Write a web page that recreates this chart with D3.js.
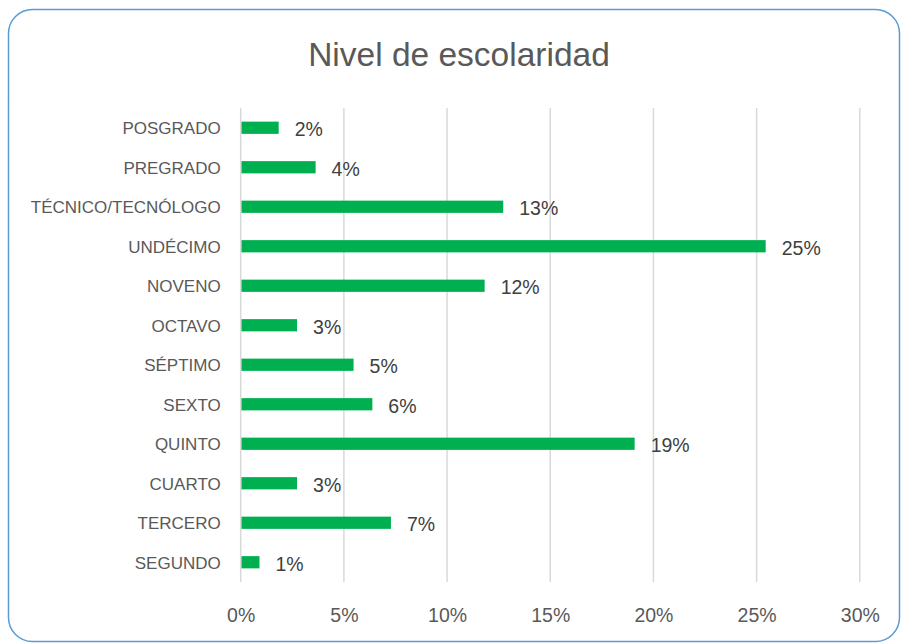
<!DOCTYPE html>
<html><head><meta charset="utf-8">
<script src="https://cdn.jsdelivr.net/npm/d3@7"></script>
<style>html,body{margin:0;padding:0;background:#fff;}svg{display:block;}</style>
</head><body>
<svg id="chart" width="901" height="643"></svg>
<script>
const title = "Nivel de escolaridad";
const categories = ["POSGRADO","PREGRADO","TÉCNICO/TECNÓLOGO","UNDÉCIMO","NOVENO","OCTAVO","SÉPTIMO","SEXTO","QUINTO","CUARTO","TERCERO","SEGUNDO"];
const values = [0.0184,0.0363,0.1272,0.2544,0.1182,0.0273,0.0547,0.0638,0.1909,0.0273,0.0728,0.0091];
const xTicks = [0,0.05,0.10,0.15,0.20,0.25,0.30];

const svg = d3.select("#chart");
const font = "'Liberation Sans', Arial, sans-serif";

svg.append("rect").attr("x",8.5).attr("y",9.5).attr("width",891).attr("height",632)
  .attr("rx",24).attr("ry",24).attr("fill","#fff").attr("stroke","#5B9BD5").attr("stroke-width",1.5);

svg.append("text").attr("x",459).attr("y",65.5).attr("text-anchor","middle")
  .attr("font-family",font).attr("font-size",33.5).attr("fill","#595959").text(title);

const x = d3.scaleLinear().domain([0,0.30]).range([240.7,859.8]);
const y = d3.scaleBand().domain(categories).range([108,582]).paddingInner(0.69).paddingOuter(0.345);

const g = svg.append("g");
g.selectAll("line.grid").data(xTicks).join("line").attr("class","grid")
  .attr("x1",d=>x(d)).attr("x2",d=>x(d)).attr("y1",108).attr("y2",582)
  .attr("stroke","#D9D9D9").attr("stroke-width",1.5);

const xAxis = d3.axisBottom(x).tickValues(xTicks).tickFormat(d3.format(".0%")).tickSize(0).tickPadding(0);
const ax = svg.append("g").attr("transform","translate(0,582)").call(xAxis);
ax.select(".domain").remove();
ax.selectAll("text").attr("font-family",font).attr("font-size",19.5).attr("fill","#595959")
  .attr("dy",null).attr("y",39.5);

const yAxis = d3.axisLeft(y).tickSize(0).tickPadding(0);
const ay = svg.append("g").attr("transform","translate(220.7,0)").call(yAxis);
ay.select(".domain").remove();
ay.selectAll("text").attr("font-family",font).attr("font-size",17).attr("fill","#595959")
  .attr("dy",null).attr("y",6.3);

const rows = categories.map((c,i)=>({c, v: values[i]}));
g.selectAll("rect.bar").data(rows).join("rect").attr("class","bar")
  .attr("x",x(0)+0.8).attr("y",d=>y(d.c)).attr("width",d=>x(d.v)-x(0)-0.8).attr("height",y.bandwidth())
  .attr("fill","#00B050");

g.selectAll("text.lbl").data(rows).join("text").attr("class","lbl")
  .attr("x",d=>x(d.v)+16).attr("y",d=>y(d.c)+y.bandwidth()/2+8.5)
  .attr("font-family",font).attr("font-size",19.5).attr("fill","#404040")
  .text(d=>d3.format(".0%")(d.v));
</script>
</body></html>
